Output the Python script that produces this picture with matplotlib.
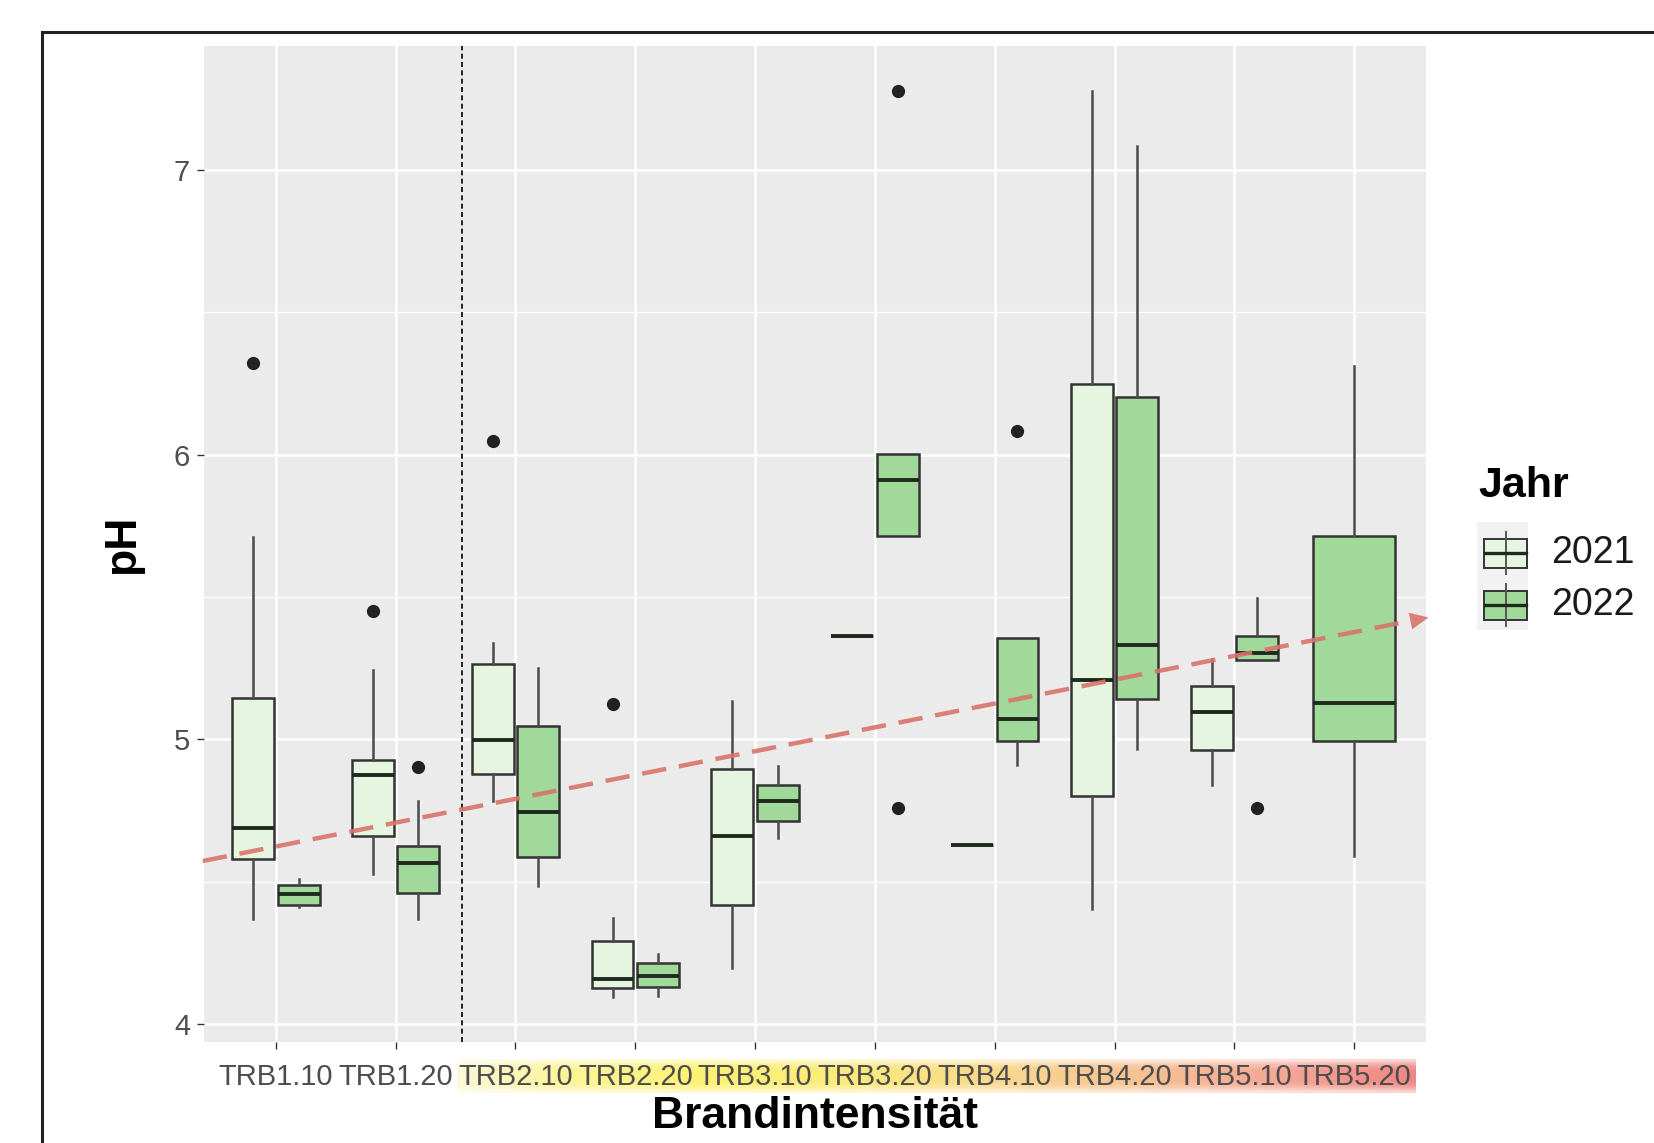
import numpy as np
import matplotlib
matplotlib.use('Agg')
import matplotlib.pyplot as plt
from matplotlib import font_manager
from matplotlib.colors import LinearSegmentedColormap
from matplotlib.patches import Rectangle
from matplotlib.lines import Line2D

nan = np.nan

# --- data ---
categories = ['TRB1.10', 'TRB1.20', 'TRB2.10', 'TRB2.20', 'TRB3.10',
              'TRB3.20', 'TRB4.10', 'TRB4.20', 'TRB5.10', 'TRB5.20']
years = ['2021', '2022']

# 2021 boxplot summaries (nan = no sample)
whislo_2021 = [4.368, 4.528, 4.784, 4.095, 4.195, 5.362, 4.628, 4.402, 4.839, nan]
q1_2021 = [4.580, 4.660, 4.879, 4.125, 4.419, 5.362, 4.628, 4.799, 4.961, nan]
med_2021 = [4.689, 4.874, 4.996, 4.157, 4.660, 5.362, 4.628, 5.208, 5.095, nan]
q3_2021 = [5.145, 4.927, 5.263, 4.291, 4.895, 5.362, 4.628, 6.247, 5.187, nan]
whishi_2021 = [5.711, 5.244, 5.339, 4.372, 5.134, 5.362, 4.628, 7.277, 5.283, nan]
fliers_2021 = [[6.321], [5.451], [6.047], [5.123], [], [], [], [], [], []]

# 2022 boxplot summaries
whislo_2022 = [4.410, 4.368, 4.485, 4.099, 4.654, 5.714, 4.910, 4.967, 5.279, 4.590]
q1_2022 = [4.419, 4.458, 4.587, 4.131, 4.711, 5.714, 4.995, 5.140, 5.279, 4.995]
med_2022 = [4.456, 4.565, 4.745, 4.169, 4.782, 5.910, 5.070, 5.330, 5.304, 5.129]
q3_2022 = [4.488, 4.626, 5.047, 4.212, 4.839, 6.004, 5.357, 6.204, 5.364, 5.714]
whishi_2022 = [4.509, 4.784, 5.251, 4.244, 4.905, 6.004, 5.357, 7.085, 5.496, 6.313]
fliers_2022 = [[], [4.901], [], [], [], [7.277, 4.760], [6.083], [], [4.760], []]

# hand-drawn trend arrow (x in category units, y in pH)
trend_x = [0.39, 10.62]
trend_y = [4.572, 5.428]
divider_x = 2.55

fill_colors = {'2021': '#e5f5e0', '2022': '#a1d99b'}

W, H = 1654, 1143
fig = plt.figure(figsize=(W / 100, H / 100), dpi=100)


def has_font(name):
    try:
        font_manager.findfont(font_manager.FontProperties(family=name),
                              fallback_to_default=False)
        return True
    except Exception:
        return False


base_font = 'Liberation Sans' if has_font('Liberation Sans') else 'DejaVu Sans'
narrow = has_font('Liberation Sans Narrow')
tick_font = 'Liberation Sans Narrow' if narrow else base_font
tick_size = 25 if narrow else 21
plt.rcParams['font.family'] = base_font

# --- overlay for decorations (frame, label band, legend) ---
over = fig.add_axes([0, 0, 1, 1], zorder=0)
over.set_xlim(0, W)
over.set_ylim(H, 0)
over.axis('off')

over.add_line(Line2D([42, 42], [32, H], color='#222222', lw=2.2))
over.add_line(Line2D([42, W], [32, 32], color='#222222', lw=2.2))

band = LinearSegmentedColormap.from_list('band', [
    (0.00, '#fbf8d6'), (0.10, '#fdf59c'), (0.25, '#fef273'),
    (0.42, '#fbea7c'), (0.58, '#f9d68e'), (0.72, '#f7c093'),
    (0.86, '#f5a797'), (1.00, '#ef8684')])
cols = band(np.linspace(0, 1, 300))
fade = np.array([0.35, 0.7, 0.9, 1, 1, 1, 1, 0.9, 0.7, 0.35])
img = np.repeat(cols[None, :, :], len(fade), axis=0)
img[:, :, 3] = fade[:, None]
over.imshow(img, extent=(457, 1416, 1093, 1059), aspect='auto',
            interpolation='bilinear')

# --- main panel ---
ax = fig.add_axes([204 / W, 1 - 1042 / H, 1222 / W, 996 / H], zorder=1)
ax.set_facecolor('#ebebeb')
for s in ax.spines.values():
    s.set_visible(False)

positions, widths, stats, faces = [], [], [], []
series = {
    '2021': (whislo_2021, q1_2021, med_2021, q3_2021, whishi_2021, fliers_2021),
    '2022': (whislo_2022, q1_2022, med_2022, q3_2022, whishi_2022, fliers_2022),
}
for i, cat in enumerate(categories):
    present = [y for y in years if not np.isnan(series[y][2][i])]
    for y in present:
        lo, a, m, b, hi, fl = (v[i] for v in series[y])
        if len(present) == 2:
            positions.append(i + 1 + (-0.19 if y == '2021' else 0.19))
            widths.append(0.35)
        else:
            positions.append(i + 1)
            widths.append(0.69)
        stats.append(dict(whislo=lo, q1=a, med=m, q3=b, whishi=hi,
                          fliers=fl, label=cat))
        faces.append(fill_colors[y])

bp = ax.bxp(stats, positions=positions, widths=widths, patch_artist=True,
            showcaps=False, manage_ticks=False,
            boxprops=dict(edgecolor='#333333', linewidth=1.8),
            medianprops=dict(color='#1f2a1f', linewidth=2.8),
            whiskerprops=dict(color='#4a4a4a', linewidth=1.8),
            flierprops=dict(marker='o', markerfacecolor='#222222',
                            markeredgecolor='#222222', markersize=8.5))
for patch, fc in zip(bp['boxes'], faces):
    patch.set_facecolor(fc)
    patch.set_zorder(3)
for k in ('medians', 'whiskers', 'fliers'):
    for art in bp[k]:
        art.set_zorder(3)

ax.axvline(divider_x, color='black', lw=1.2, ls=(0, (3, 2)), zorder=4)

# dashed trend line stops a bit short of the arrow tip, head drawn solid
ax.plot([trend_x[0], trend_x[1] - 0.16], [trend_y[0], trend_y[1] - 0.013],
        color='#d9736b', lw=3.2, ls=(0, (5.5, 2.9)),
        alpha=0.9, clip_on=False, zorder=5, solid_capstyle='butt',
        dash_capstyle='butt')
ax.annotate('', xy=(trend_x[1], trend_y[1]),
            xytext=(trend_x[1] - 0.14, trend_y[1] - 0.012),
            arrowprops=dict(arrowstyle='-|>,head_length=1.3,head_width=0.6',
                            color='#d9736b', alpha=0.9, lw=0.1,
                            shrinkA=0, shrinkB=0),
            annotation_clip=False, zorder=5)

ax.set_xlim(0.4, 10.6)
ax.set_ylim(3.936, 7.436)
ax.set_xticks(range(1, len(categories) + 1))
ax.set_xticklabels(categories)
ax.set_yticks([4, 5, 6, 7])
ax.set_yticks([4.5, 5.5, 6.5], minor=True)
ax.tick_params(axis='both', which='major', color='#333333', length=5, width=1,
               labelcolor='#4d4d4d', labelsize=tick_size)
ax.tick_params(axis='x', pad=10)
ax.tick_params(axis='y', pad=5)
ax.tick_params(which='minor', length=0)
for lab in ax.get_xticklabels() + ax.get_yticklabels():
    lab.set_family(tick_font)
ax.grid(which='major', color='white', lw=1.8)
ax.grid(which='minor', color='white', lw=0.9)
ax.set_axisbelow(True)

ax.set_xlabel('Brandintensität', fontsize=32, fontweight='bold')
ax.set_ylabel('pH', fontsize=32, fontweight='bold')
ax.xaxis.set_label_coords(0.5, -0.054)
ax.yaxis.set_label_coords(-0.05, 0.5)

# --- legend drawn by hand ---
over.text(1478, 486, 'Jahr', fontsize=31, fontweight='bold', va='center',
          ha='left', color='black')
over.add_patch(Rectangle((1477, 522), 51, 108, facecolor='#f2f2f2',
                         edgecolor='none'))
for yc, yr in zip([553, 605], years):
    over.add_line(Line2D([1505.5, 1505.5], [yc - 21, yc + 21],
                         color='#555555', lw=1.4))
    over.add_patch(Rectangle((1484, yc - 14.5), 43, 29,
                             facecolor=fill_colors[yr], edgecolor='#333333',
                             lw=1.4))
    over.add_line(Line2D([1484.7, 1526.3], [yc, yc], color='#1f2a1f', lw=2.4))
    over.text(1551, yc, yr, fontsize=27, va='center', ha='left',
              color='#1a1a1a')

fig.savefig('out.png', dpi=100)
